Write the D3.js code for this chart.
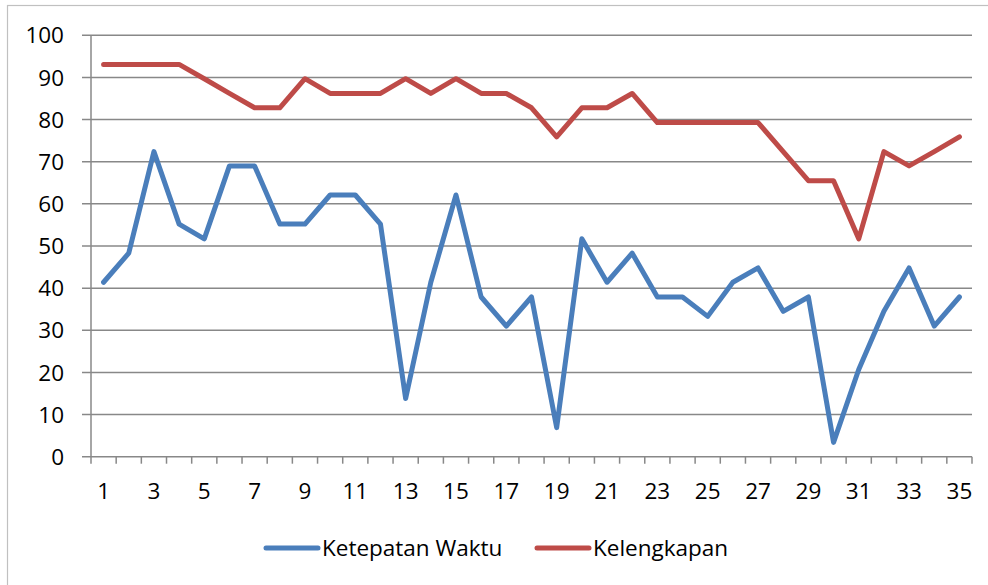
<!DOCTYPE html>
<html>
<head>
<meta charset="utf-8">
<script src="https://cdn.jsdelivr.net/npm/d3@7"></script>
<style>
  html, body { margin: 0; padding: 0; background: #fff; }
  svg { display: block; font-family: "Open Sans", "Noto Sans", sans-serif; }
</style>
</head>
<body>
<div id="chart"></div>
<script>
'use strict';

// ---------- data ---------- //
var days = d3.range(1, 36);
var ketepatanWaktu = [41.4, 48.3, 72.4, 55.2, 51.7, 69.0, 69.0, 55.2, 55.2, 62.1,
  62.1, 55.2, 13.8, 41.4, 62.1, 37.9, 31.0, 37.9, 6.9, 51.7,
  41.4, 48.3, 37.9, 37.9, 33.3, 41.4, 44.8, 34.5, 37.9, 3.4,
  20.7, 34.5, 44.8, 31.0, 37.9];
var kelengkapan = [93.1, 93.1, 93.1, 93.1, 89.7, 86.2, 82.8, 82.8, 89.7, 86.2,
  86.2, 86.2, 89.7, 86.2, 89.7, 86.2, 86.2, 82.8, 75.9, 82.8,
  82.8, 86.2, 79.3, 79.3, 79.3, 79.3, 79.3, 72.4, 65.5, 65.5,
  51.7, 72.4, 69.0, 72.4, 75.9];
var yTicks = [0, 10, 20, 30, 40, 50, 60, 70, 80, 90, 100];
var xLabels = [1, 3, 5, 7, 9, 11, 13, 15, 17, 19, 21, 23, 25, 27, 29, 31, 33, 35];
var seriesNames = ['Ketepatan Waktu', 'Kelengkapan'];
var colors = ['#4a7ebb', '#be4b48'];

// ---------- layout ---------- //
var width = 988;
var height = 585;
var plot = { left: 91, right: 972, top: 35.3, bottom: 456.7 };
var gridColor = '#888888';
var fontSize = 22.5;

var svg = d3.select('#chart').append('svg')
  .attr('width', width)
  .attr('height', height);

// outer frame (right/bottom edges fall outside the picture)
svg.append('rect')
  .attr('x', 7.5).attr('y', 5.5)
  .attr('width', width + 10).attr('height', height + 10)
  .attr('fill', 'none')
  .attr('stroke', '#c0c0c0')
  .attr('stroke-width', 1.2);

var x = d3.scaleLinear().domain([0.5, 35.5]).range([plot.left, plot.right]);
var y = d3.scaleLinear().domain([0, 100]).range([plot.bottom, plot.top]);

// gridlines + y ticks
svg.append('g').selectAll('line').data(yTicks).enter().append('line')
  .attr('x1', plot.left - 9)
  .attr('x2', plot.right)
  .attr('y1', function (d) { return y(d); })
  .attr('y2', function (d) { return y(d); })
  .attr('stroke', gridColor)
  .attr('stroke-width', 1.5);

// y axis line
svg.append('line')
  .attr('x1', plot.left).attr('x2', plot.left)
  .attr('y1', y(100)).attr('y2', plot.bottom)
  .attr('stroke', gridColor)
  .attr('stroke-width', 1.5);

// x tick marks at category boundaries
svg.append('g').selectAll('line').data(d3.range(0.5, 36, 1)).enter().append('line')
  .attr('x1', function (d) { return x(d); })
  .attr('x2', function (d) { return x(d); })
  .attr('y1', plot.bottom)
  .attr('y2', plot.bottom + 7)
  .attr('stroke', gridColor)
  .attr('stroke-width', 1.5);

// y labels
svg.append('g').selectAll('text').data(yTicks).enter().append('text')
  .attr('x', 64)
  .attr('y', function (d) { return y(d); })
  .attr('dy', '0.36em')
  .attr('text-anchor', 'end')
  .attr('font-size', fontSize)
  .attr('fill', '#000')
  .text(function (d) { return d; });

// x labels
svg.append('g').selectAll('text').data(xLabels).enter().append('text')
  .attr('x', function (d) { return x(d); })
  .attr('y', 499)
  .attr('text-anchor', 'middle')
  .attr('font-size', fontSize)
  .attr('fill', '#000')
  .text(function (d) { return d; });

// lines
var line = d3.line()
  .x(function (d, i) { return x(days[i]); })
  .y(function (d) { return y(d); });

[ketepatanWaktu, kelengkapan].forEach(function (values, k) {
  svg.append('path')
    .datum(values)
    .attr('d', line)
    .attr('fill', 'none')
    .attr('stroke', colors[k])
    .attr('stroke-width', 5)
    .attr('stroke-linejoin', 'round')
    .attr('stroke-linecap', 'round');
});

// legend
var legendX = [266, 537];
var legend = svg.append('g').selectAll('g').data(seriesNames).enter().append('g')
  .attr('transform', function (d, i) { return 'translate(' + legendX[i] + ',548)'; });
legend.append('line')
  .attr('x1', 0).attr('x2', 52)
  .attr('y1', 0).attr('y2', 0)
  .attr('stroke', function (d, i) { return colors[i]; })
  .attr('stroke-width', 5)
  .attr('stroke-linecap', 'round');
legend.append('text')
  .attr('x', 56)
  .attr('y', 8)
  .attr('font-size', fontSize)
  .attr('fill', '#000')
  .text(function (d) { return d; });
</script>
</body>
</html>
